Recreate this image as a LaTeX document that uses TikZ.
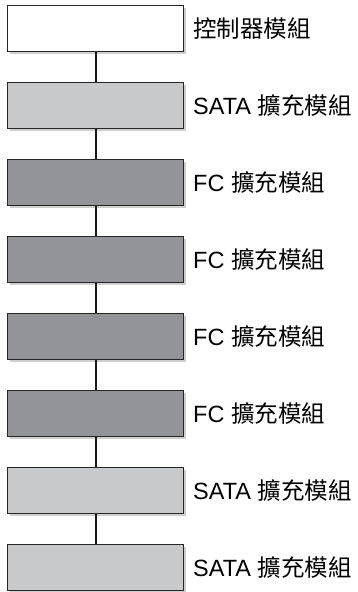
\documentclass[tikz,border=0pt]{standalone}
\usepackage{fontspec}
\setmainfont{Liberation Sans}
\newfontfamily\cjk{Noto Sans CJK TC}
\definecolor{lightbox}{HTML}{C8C9CB}
\definecolor{darkbox}{HTML}{939497}
\definecolor{shadowgray}{HTML}{CFCFD0}
\begin{document}
\begin{tikzpicture}[x=1pt,y=-1pt,
  modbox/.style={draw=black!85, line width=0.9pt, minimum width=176pt, minimum height=46pt, inner sep=0pt, anchor=north west},
  shadowbox/.style={fill=shadowgray, draw=none, minimum width=176pt, minimum height=46pt, inner sep=0pt, anchor=north west},
  lbl/.style={anchor=west, font=\fontsize{23.5}{26}\selectfont, inner sep=0pt},
  link/.style={line width=2pt, black!90}]
\useasboundingbox (0,0) rectangle (357,592);
\foreach \i/\y/\c in {1/5/white,2/82/lightbox,3/159/darkbox,4/236/darkbox,5/313/darkbox,6/390/darkbox,7/467/lightbox,8/544/lightbox}{
  \node[shadowbox] at (10,\y+3) {};
  \node[modbox, fill=\c] (b\i) at (7,\y) {};
}
\node[lbl] (t1) at (193,29) {\cjk 控制器模組};
\node[lbl] (t2) at (193,106) {SATA {\cjk 擴充模組}};
\node[lbl] (t3) at (193,183) {FC {\cjk 擴充模組}};
\node[lbl] (t4) at (193,260) {FC {\cjk 擴充模組}};
\node[lbl] (t5) at (193,337) {FC {\cjk 擴充模組}};
\node[lbl] (t6) at (193,414) {FC {\cjk 擴充模組}};
\node[lbl] (t7) at (193,491) {SATA {\cjk 擴充模組}};
\node[lbl] (t8) at (193,568) {SATA {\cjk 擴充模組}};
\foreach \a/\b in {1/2,2/3,3/4,4/5,5/6,6/7,7/8}{
  \draw[link] (b\a.south -| 96,0) -- (b\b.north -| 96,0);
}
\end{tikzpicture}
\end{document}
